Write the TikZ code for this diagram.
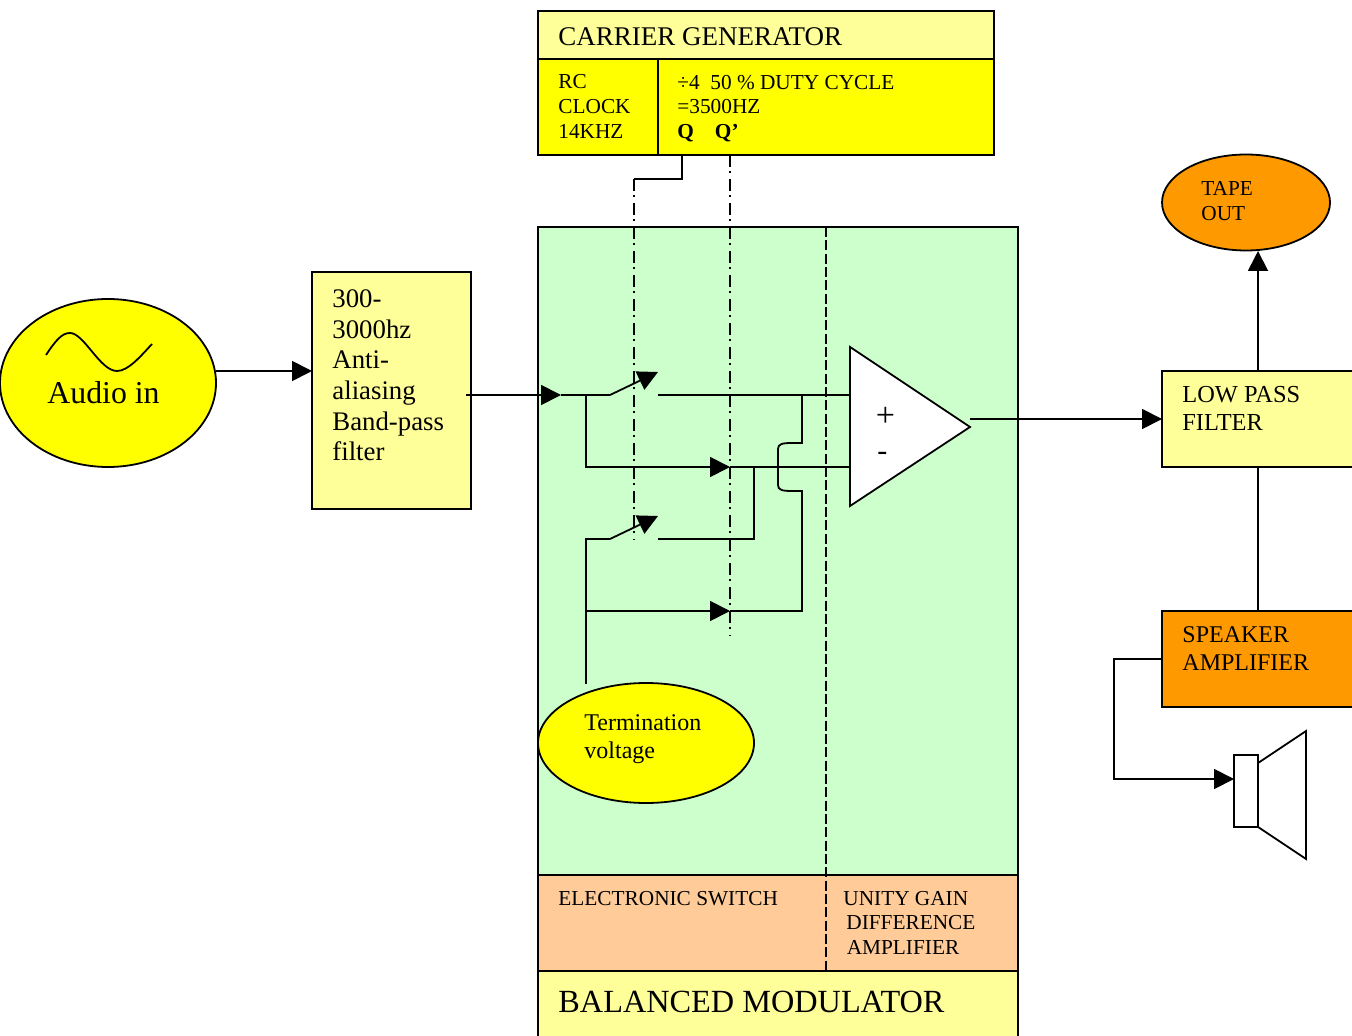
\documentclass[tikz,border=0pt]{standalone}
\usepackage{fontspec}
\setmainfont{Liberation Serif}
\usetikzlibrary{arrows.meta,shapes.geometric}
\definecolor{pureyellow}{HTML}{FFFF00}
\definecolor{paleyellow}{HTML}{FFFF99}
\definecolor{palegreen}{HTML}{CCFFCC}
\definecolor{peach}{HTML}{FFCC99}
\definecolor{deeporange}{HTML}{FF9900}
\tikzset{
  block/.style={draw, anchor=north west, inner sep=0pt, outer sep=0pt},
  oval/.style={draw, ellipse, inner sep=0pt, outer sep=0pt},
  txt/.style={anchor=north west, inner sep=0pt, align=left, font=\fontsize{10.65}{12.3}\selectfont},
  bigtxt/.style={txt, font=\fontsize{13.4}{15.3}\selectfont},
  wire/.style={line width=0.9pt},
  flow/.style={wire, -{Triangle[length=10pt,width=10pt]}},
  ctrl/.style={wire, dash pattern=on 6pt off 2pt on 1pt off 3pt},
}
\begin{document}
\begin{tikzpicture}[x=0.5pt,y=-0.5pt,line width=0.9pt]
    \useasboundingbox (0,0) rectangle (1352,1036);
    \clip (0,0) rectangle (1352,1036);

    % Draw carrier generator
    \node[block, fill=paleyellow, minimum width=228pt, minimum height=24pt] (carrier) at (538,11) {};
    \node[block, fill=pureyellow, minimum width=60pt, minimum height=48pt] (clock) at (538,59) {};
    \node[block, fill=pureyellow, minimum width=168pt, minimum height=48pt] (divider) at (658,59) {};
    \node[bigtxt, font=\fontsize{13.5}{15.4}\selectfont] (carriertxt) at (557.5,27) {CARRIER GENERATOR};
    \node[txt] (clocktxt) at (557.5,74) {RC\\CLOCK\\14KHZ};
    \node[txt] (dividertxt) at (676.5,74) {÷4\ \ 50 \% DUTY CYCLE\\=3500HZ\\\textbf{Q\hspace{10.5pt}Q’}};

    % Draw balanced modulator
    \node[block, fill=palegreen, minimum width=240pt, minimum height=324pt] (modulator) at (538,227) {};
    \node[block, fill=peach, minimum width=240pt, minimum height=48pt] (legend) at (538,875) {};
    \node[block, fill=paleyellow, minimum width=240pt, minimum height=48pt] (title) at (538,971) {};
    \node[txt] (switchtxt) at (557.5,890) {ELECTRONIC SWITCH};
    \node[txt] (unitytxt) at (842.5,890) {UNITY GAIN\\\hspace{1.5pt}DIFFERENCE\\\hspace{1.7pt}AMPLIFIER};
    \node[bigtxt, font=\fontsize{16.15}{19}\selectfont] (titletxt) at (557.5,990) {BALANCED MODULATOR};

    % Input side
    \node[oval, fill=pureyellow, minimum width=108pt, minimum height=84pt] (audio) at (108,383) {};
    \node[bigtxt, font=\fontsize{15.9}{18}\selectfont] (audiotxt) at (46.5,380.5) {Audio in};
    \node[block, fill=paleyellow, minimum width=79.5pt, minimum height=118.5pt] (filter) at (312,272) {};
    \node[bigtxt] (filtertxt) at (331.5,289) {300-\\3000hz\\Anti-\\aliasing\\Band-pass\\filter};
    \draw[wire] (46,355) .. controls (56,340) and (62,333) .. (70,333)
        .. controls (84,333) and (100,371) .. (117,371)
        .. controls (128,371) and (140,357) .. (152,344);

    % Output side
    \node[oval, fill=deeporange, minimum width=84pt, minimum height=48pt] (tape) at (1246,202.5) {};
    \node[txt] (tapetxt) at (1200.5,180.5) {TAPE\\OUT};
    \node[block, fill=paleyellow, minimum width=120pt, minimum height=48pt] (lowpass) at (1162,371) {};
    \node[bigtxt, font=\fontsize{12.2}{14.4}\selectfont] (lowpasstxt) at (1181.5,385) {LOW PASS\\FILTER};
    \node[block, fill=deeporange, minimum width=120pt, minimum height=48pt] (speakeramp) at (1162,611) {};
    \node[bigtxt, font=\fontsize{12}{14}\selectfont] (speakeramptxt) at (1181.5,626) {SPEAKER\\AMPLIFIER};

    % Termination voltage
    \node[oval, fill=pureyellow, minimum width=108pt, minimum height=60pt] (term) at (646,743) {};
    \node[txt, font=\fontsize{12}{14}\selectfont] (termtxt) at (583.5,714) {Termination\\voltage};

    % Junction points
    \coordinate (audioout) at (216,371);
    \coordinate (filterin) at (312,371);
    \coordinate (filterout) at (466,395);
    \coordinate (modin) at (561,395);
    \coordinate (junctop) at (586,395);
    \coordinate (armtop) at (610,395);
    \coordinate (tiptop) at (658,372);
    \coordinate (conttop) at (658,395);
    \coordinate (plusin) at (850,395);
    \coordinate (feedtop) at (802,395);
    \coordinate (minusin) at (850,467);
    \coordinate (midarrow) at (730,467);
    \coordinate (feedmid) at (754,467);
    \coordinate (termtop) at (586,684);
    \coordinate (junclow) at (586,539);
    \coordinate (armlow) at (610,539);
    \coordinate (tiplow) at (658,516);
    \coordinate (contlow) at (658,539);
    \coordinate (corner) at (754,539);
    \coordinate (juncbot) at (586,611);
    \coordinate (botarrow) at (730,611);
    \coordinate (feedbot) at (802,611);

    % Wires through the switches
    \draw[flow] (audioout) -- (filterin);
    \draw[flow] (filterout) -- (modin);
    \draw[wire] (modin) -- (armtop);
    \draw[flow] (armtop) -- (tiptop);
    \draw[wire] (conttop) -- (plusin);
    \draw[flow] (junctop) |- (midarrow);
    \draw[wire] (midarrow) -- (minusin);
    \draw[wire] (termtop) -- (junclow) -- (armlow);
    \draw[flow] (armlow) -- (tiplow);
    \draw[wire] (contlow) -- (corner) -- (feedmid);
    \draw[flow] (juncbot) -- (botarrow);
    \draw[wire] (botarrow) -- (feedbot) -- (802,491) -- (792,491)
        .. controls (782,491) and (778,490) .. (778,485) -- (778,449)
        .. controls (778,444) and (782,443) .. (792,443) -- (802,443) -- (feedtop);

    % Carrier lines
    \coordinate (qout) at (682,155);
    \coordinate (qbend) at (634,179);
    \coordinate (qend) at (634,540);
    \coordinate (qbarout) at (730,155);
    \coordinate (qbarend) at (730,636);
    \draw[wire] (qout) |- (qbend);
    \draw[ctrl] (qbend) -- (qend);
    \draw[ctrl] (qbarout) -- (qbarend);

    % Split between switch and amplifier
    \coordinate (splittop) at (826,227);
    \coordinate (splitbot) at (826,971);
    \draw[wire, dash pattern=on 5pt off 1.67pt] (splittop) -- (splitbot);

    % Draw amplifier
    \draw[wire, fill=white] (850,347) coordinate (amptop) -- (970,427) coordinate (amptip) -- (850,506) coordinate (ampbot) -- cycle;
    \node[txt, font=\fontsize{17}{17}\selectfont] (plustxt) at (875,406) {+};
    \node[txt, font=\fontsize{15}{15}\selectfont] (minustxt) at (876.5,451) {-};

    % Output wires
    \coordinate (ampout) at (970,419);
    \coordinate (lowin) at (1162,419);
    \coordinate (lowtop) at (1258,371);
    \coordinate (tapein) at (1258,251);
    \coordinate (lowbot) at (1258,467);
    \coordinate (amptopin) at (1258,611);
    \draw[flow] (ampout) -- (lowin);
    \draw[flow] (lowtop) -- (tapein);
    \draw[wire] (amptopin) -- (lowbot);

    % Draw speaker
    \draw[wire, fill=white] (1258,763) -- (1306,731) -- (1306,859) -- (1258,827);
    \node[block, fill=white, minimum width=12pt, minimum height=36pt] (coil) at (1234,755) {};
    \coordinate (ampleft) at (1162,659);
    \coordinate (coilin) at (1234,779);
    \draw[flow] (ampleft) -- (1114,659) |- (coilin);
\end{tikzpicture}
\end{document}
